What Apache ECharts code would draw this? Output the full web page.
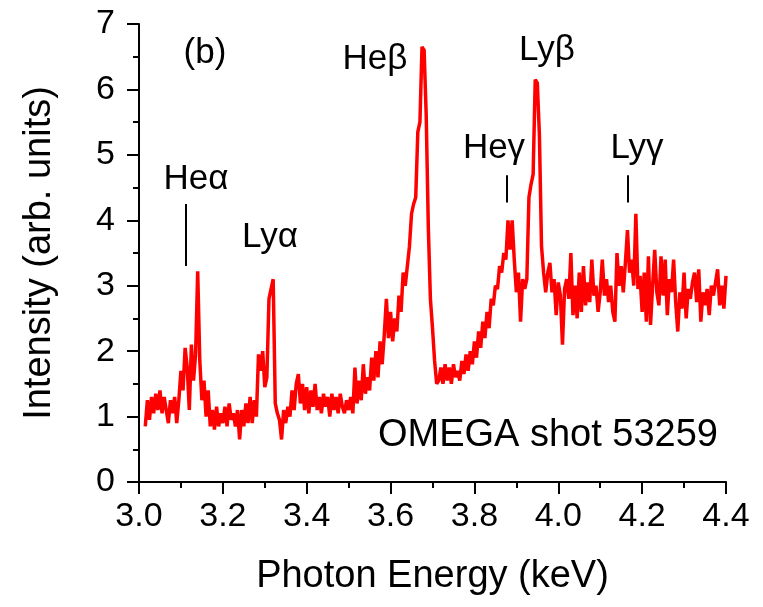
<!DOCTYPE html>
<html>
<head>
<meta charset="utf-8">
<script src="https://cdn.jsdelivr.net/npm/echarts@6/dist/echarts.min.js"></script>
<style>
  html, body { margin: 0; padding: 0; background: #fff; }
  #chart { width: 763px; height: 607px; }
</style>
</head>
<body>
<div id="chart"></div>
<script>
// 光谱数据：从 3.015 keV 起，每 0.005 keV 一个点
const energyStart = 3.015;
const energyStep = 0.005;
const intensity = [
  0.85, 1.25, 0.95, 1.3, 1.05, 1.35, 1.1, 1.4, 1.05, 1.3,
  1.1, 0.9, 1.25, 1.05, 1.3, 0.9, 1.25, 1.7, 1.4, 2.05,
  1.75, 1.1, 2.1, 1.55, 1.95, 3.22, 1.85, 1.25, 1.55, 1.0,
  1.4, 0.85, 1.1, 0.8, 1.15, 0.85, 1.05, 0.9, 1.15, 0.85,
  1.2, 0.95, 1.05, 0.85, 1.1, 0.65, 1.1, 0.85, 1.2, 0.9,
  1.3, 0.9, 1.25, 1.0, 1.95, 1.7, 2.0, 1.45, 1.6, 2.8,
  2.95, 3.1, 1.2, 1.05, 0.95, 0.65, 1.1, 0.9, 1.15, 1.0,
  1.4, 1.1, 1.5, 1.65, 1.2, 1.5, 1.1, 1.45, 1.05, 1.4,
  1.15, 1.5, 1.1, 1.3, 1.05, 1.35, 1.15, 1.3, 1.0, 1.35,
  1.1, 1.3, 1.05, 1.35, 1.15, 1.05, 1.25, 1.1, 1.3, 1.05,
  1.75, 1.2, 1.55, 1.25, 1.8, 1.35, 1.6, 1.4, 1.9, 1.55,
  2.0, 1.6, 2.15, 1.8, 2.25, 2.8, 2.2, 2.6, 2.15, 2.5,
  2.3, 2.85, 2.6, 3.2, 3.0, 3.3, 3.6, 4.1, 4.25, 4.35,
  5.35, 5.5, 6.65, 6.6, 5.6, 3.9, 2.8, 2.35, 1.85, 1.5,
  1.55, 1.75, 1.5, 1.8, 1.55, 1.75, 1.5, 1.8, 1.6, 1.7,
  1.55, 1.85, 1.65, 1.95, 1.7, 2.0, 1.8, 2.15, 1.9, 2.3,
  2.05, 2.45, 2.2, 2.6, 2.35, 2.8, 2.7, 3.0, 2.95, 3.3,
  3.2, 3.5, 3.4, 4.0, 3.55, 4.0, 3.4, 2.9, 3.2, 2.45,
  3.1, 2.95, 3.1, 4.35, 4.55, 4.7, 6.15, 6.1, 5.3, 3.6,
  3.2, 2.9, 3.2, 3.35, 2.9, 3.1, 2.55, 3.05, 2.85, 2.1,
  2.95, 3.1, 2.8, 3.5, 2.55, 3.0, 2.5, 3.2, 2.6, 3.3,
  2.7, 3.05, 2.75, 3.4, 2.85, 3.0, 2.6, 2.9, 3.4, 2.85,
  3.1, 2.75, 3.0, 2.6, 2.45, 3.5, 3.0, 3.3, 2.9, 3.35,
  3.85, 3.2, 3.4, 3.0, 4.1, 2.95, 3.15, 2.6, 3.2, 2.45,
  3.45, 2.4, 3.0, 3.55, 2.9, 2.7, 3.45, 2.85, 3.4, 2.55,
  3.1, 2.9, 3.4, 2.75, 2.3, 2.9, 2.65, 3.2, 2.5, 2.95,
  2.8, 3.05, 3.2, 2.75, 3.25, 2.45, 2.9, 2.7, 2.95, 2.55,
  3.0, 2.85, 3.05, 3.25, 2.7, 3.0, 2.65, 3.15
];

// 谱线标记：竖线位置 (keV) 和上下端 (强度)
const markerLines = [
  { e: 3.112, y0: 3.30, y1: 4.25 },
  { e: 3.878, y0: 4.27, y1: 4.69 },
  { e: 4.166, y0: 4.27, y1: 4.69 }
];

// 文字标注
const annotations = [
  { text: '(b)', x: 205, y: 53 },
  { text: 'He\u03b2', x: 375, y: 59 },
  { text: 'Ly\u03b2', x: 547, y: 50 },
  { text: 'He\u03b1', x: 196, y: 179 },
  { text: 'Ly\u03b1', x: 270, y: 237 },
  { text: 'He\u03b3', x: 494, y: 148 },
  { text: 'Ly\u03b3', x: 637, y: 148 }
];

const seriesData = intensity.map((v, i) => [+(energyStart + i * energyStep).toFixed(3), v]);

const FONT = "'Liberation Sans', Arial, sans-serif";

const chart = echarts.init(document.getElementById('chart'));

const axisCommon = {
  axisLine: { lineStyle: { color: '#000', width: 2 } },
  axisTick: { inside: false, length: 12, lineStyle: { color: '#000', width: 2 } },
  minorTick: { show: true, splitNumber: 2, length: 6, lineStyle: { color: '#000', width: 2 } },
  splitLine: { show: false },
  nameLocation: 'middle',
  nameTextStyle: { fontFamily: FONT, fontSize: 38, color: '#000' }
};

const option = {
  backgroundColor: '#fff',
  animation: false,
  grid: { left: 139, right: 37, top: 24, bottom: 125 },
  xAxis: {
    ...axisCommon,
    type: 'value',
    min: 3.0,
    max: 4.4,
    interval: 0.2,
    name: 'Photon Energy (keV)',
    nameGap: 76,
    axisLabel: {
      fontFamily: FONT, fontSize: 34, color: '#000', margin: 18,
      formatter: v => v.toFixed(1)
    }
  },
  yAxis: {
    ...axisCommon,
    type: 'value',
    min: 0,
    max: 7,
    interval: 1,
    name: 'Intensity (arb. units)',
    nameGap: 80,
    axisLabel: { fontFamily: FONT, fontSize: 34, color: '#000', margin: 24 }
  },
  series: [
    {
      type: 'line',
      data: seriesData,
      showSymbol: false,
      lineStyle: { color: '#ff0000', width: 3.5 },
      markLine: {
        silent: true,
        symbol: 'none',
        label: { show: false },
        lineStyle: { color: '#000', width: 2, type: 'solid' },
        data: markerLines.map(m => [{ coord: [m.e, m.y0] }, { coord: [m.e, m.y1] }])
      }
    }
  ],
  graphic: annotations.map(a => ({
    type: 'text',
    x: a.x,
    y: a.y,
    style: {
      text: a.text,
      fontFamily: FONT,
      fontSize: 35,
      fill: '#000',
      align: 'center',
      verticalAlign: 'middle'
    }
  })).concat([{
    type: 'text',
    x: 718,
    y: 436,
    style: {
      text: 'OMEGA shot 53259',
      fontFamily: FONT,
      fontSize: 38,
      fill: '#000',
      align: 'right',
      verticalAlign: 'middle'
    }
  }])
};

chart.setOption(option);
window.addEventListener('resize', () => chart.resize());
</script>
</body>
</html>
